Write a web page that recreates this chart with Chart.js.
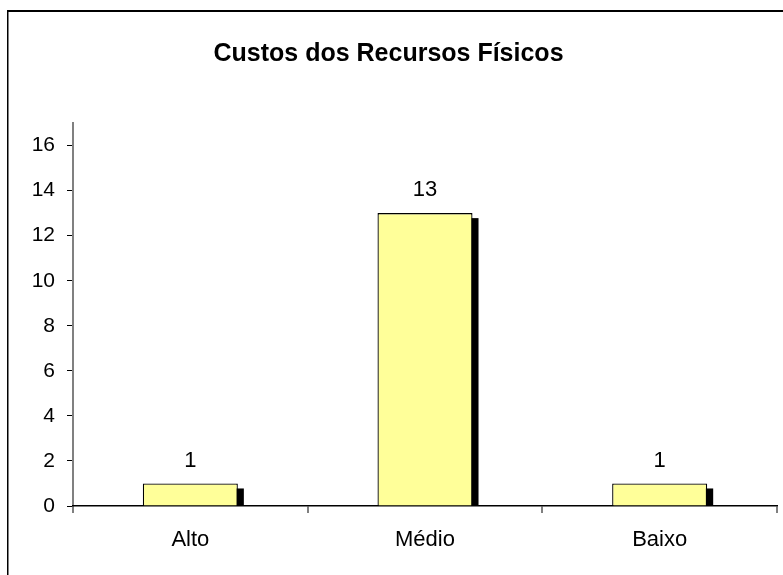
<!DOCTYPE html>
<html>
<head>
<meta charset="utf-8">
<script src="https://cdn.jsdelivr.net/npm/chart.js@4"></script>
<style>
  html, body { margin: 0; padding: 0; background: #fff; }
  canvas { display: block; }
</style>
</head>
<body>
<canvas id="c" width="783" height="575"></canvas>
<script>
const titleText = "Custos dos Recursos Físicos";
const categories = ["Alto", "Médio", "Baixo"];
const values = [1, 13, 1];
const yTickStep = 2;
const yMax = 17;

const FONT = "'Liberation Sans', Arial, sans-serif";

const framePlugin = {
  id: 'frame',
  beforeDraw(chart) {
    const ctx = chart.ctx;
    ctx.save();
    ctx.fillStyle = '#fff';
    ctx.fillRect(0, 0, chart.width, chart.height);
    ctx.fillStyle = '#000';
    ctx.fillRect(7, 10, chart.width - 7, 2);
    ctx.fillRect(7, 10, 1.5, chart.height - 10);
    ctx.restore();
  }
};

const shadowPlugin = {
  id: 'shadow',
  beforeDatasetsDraw(chart) {
    const ctx = chart.ctx;
    const meta = chart.getDatasetMeta(0);
    ctx.save();
    ctx.fillStyle = '#000';
    meta.data.forEach(bar => {
      const p = bar.getProps(['x', 'y', 'base', 'width'], true);
      const left = p.x - p.width / 2 + 6;
      const top = p.y + 5;
      ctx.fillRect(left, top, p.width, p.base - top);
    });
    ctx.restore();
  },
  afterDatasetsDraw(chart) {
    const ctx = chart.ctx;
    const meta = chart.getDatasetMeta(0);
    const ds = chart.data.datasets[0];
    ctx.save();
    ctx.fillStyle = '#000';
    ctx.font = "22px " + FONT;
    ctx.textAlign = 'center';
    ctx.textBaseline = 'middle';
    meta.data.forEach((bar, i) => {
      const p = bar.getProps(['x', 'y'], true);
      ctx.fillText(String(ds.data[i]), p.x, p.y - 23);
    });
    ctx.restore();
  }
};

new Chart(document.getElementById('c'), {
  type: 'bar',
  data: {
    labels: categories,
    datasets: [{
      data: values,
      backgroundColor: '#FFFF99',
      borderColor: '#000',
      borderWidth: 1.3,
      barPercentage: 0.405,
      categoryPercentage: 1.0
    }]
  },
  options: {
    responsive: false,
    animation: false,
    devicePixelRatio: 1,
    layout: { padding: { left: 0, right: 6, top: 0, bottom: 0 } },
    plugins: {
      legend: { display: false },
      tooltip: { enabled: false },
      title: {
        display: true,
        text: titleText,
        color: '#000',
        font: { family: FONT, size: 25, weight: 'bold', lineHeight: 1.2 },
        padding: { top: 39, bottom: 54 }
      }
    },
    scales: {
      y: {
        min: 0,
        max: yMax,
        ticks: {
          stepSize: yTickStep,
          includeBounds: false,
          color: '#000',
          font: { family: FONT, size: 21 },
          padding: 12
        },
        grid: {
          drawOnChartArea: false,
          drawTicks: true,
          tickLength: 6,
          color: '#000',
          lineWidth: 1
        },
        border: { color: '#808080', width: 2 },
        afterFit(scale) { scale.width = 73; }
      },
      x: {
        ticks: {
          color: '#000',
          font: { family: FONT, size: 22 },
          padding: 14
        },
        grid: {
          offset: true,
          drawOnChartArea: false,
          drawTicks: true,
          tickLength: 7,
          color: '#808080',
          lineWidth: 2
        },
        border: { color: '#000', width: 1.5 },
        afterFit(scale) { scale.height = 69; }
      }
    }
  },
  plugins: [framePlugin, shadowPlugin]
});
</script>
</body>
</html>
